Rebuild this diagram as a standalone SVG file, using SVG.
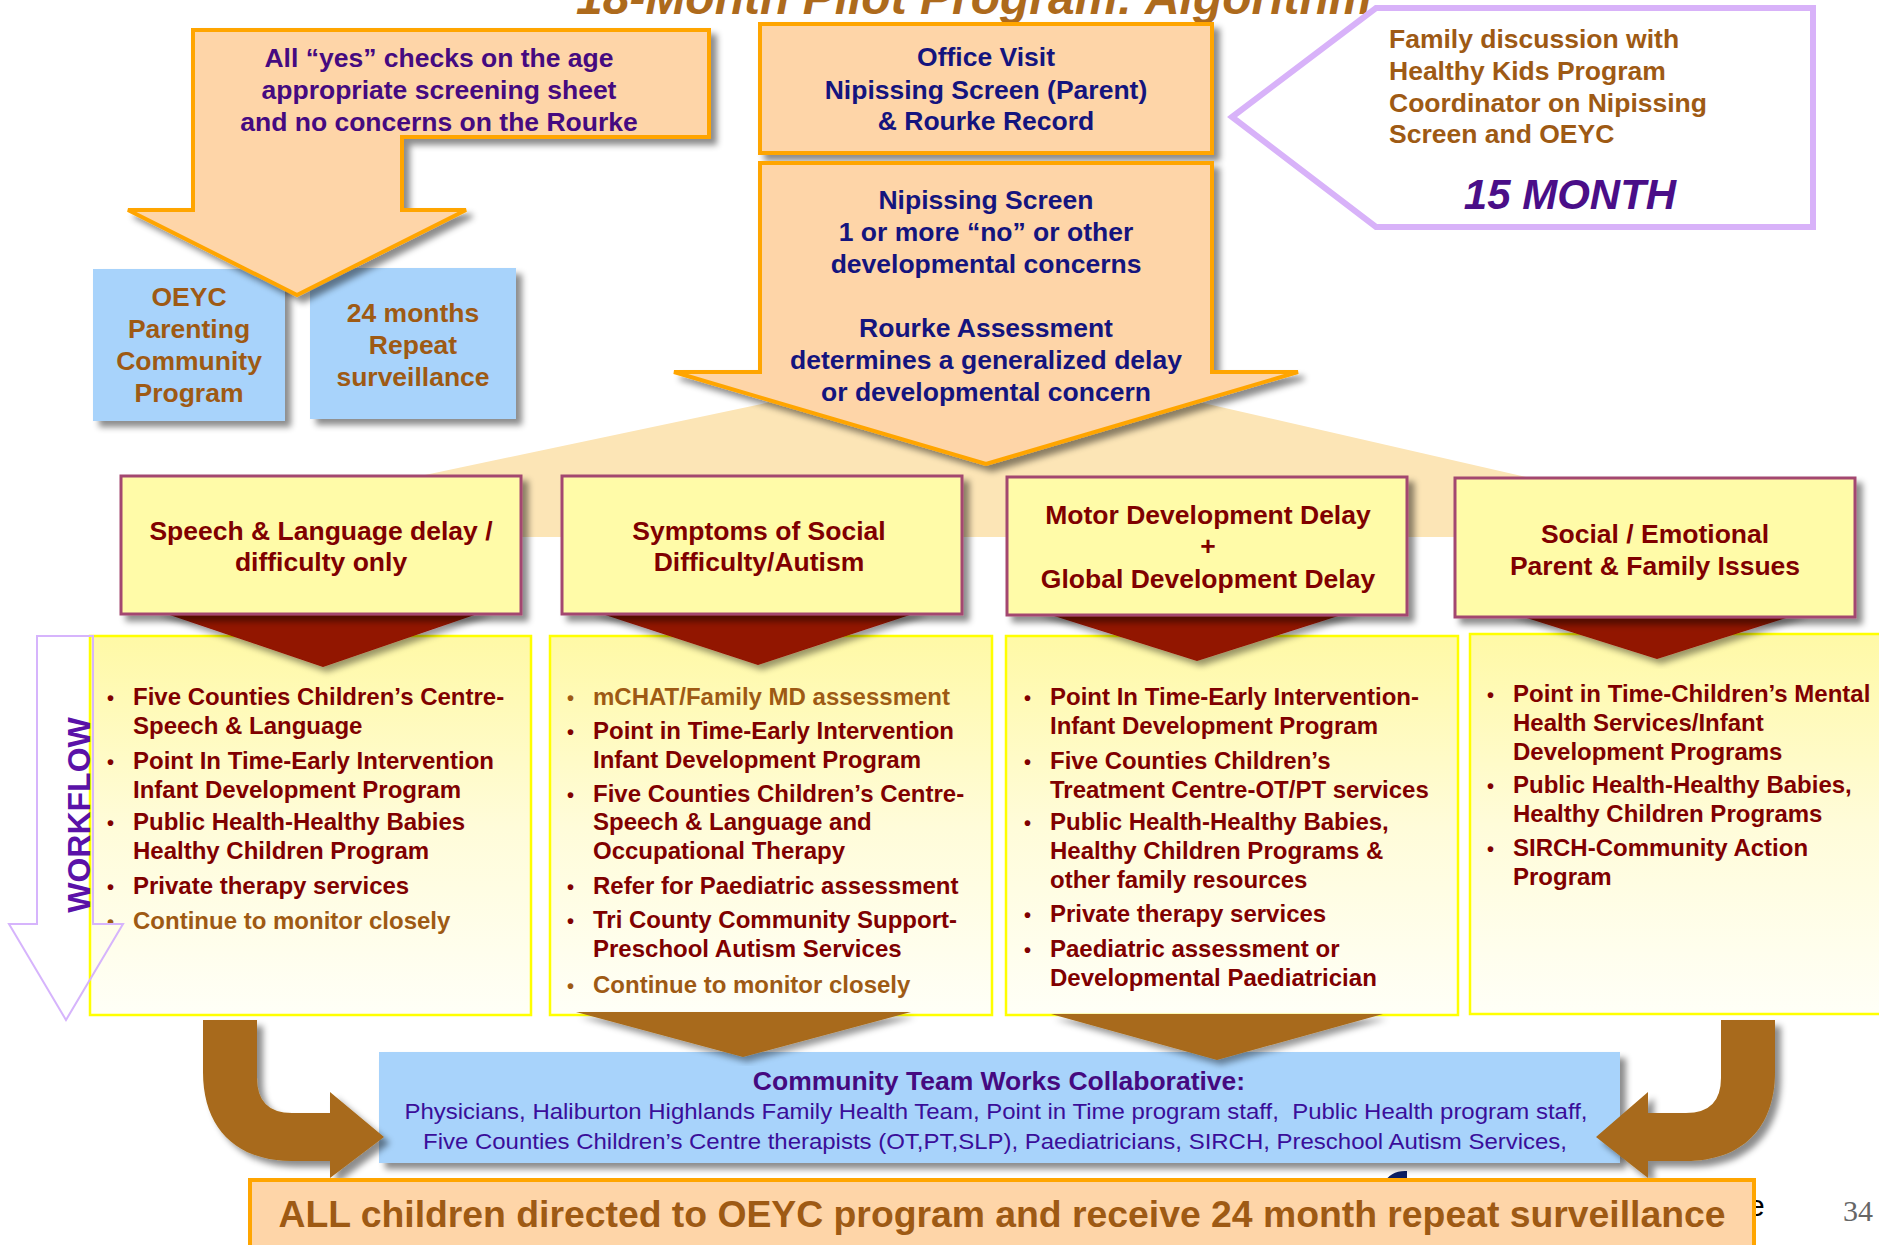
<svg xmlns="http://www.w3.org/2000/svg" width="1879" height="1245" viewBox="0 0 1879 1245">
<defs>
<style>
.sans{font-family:'Liberation Sans',Arial,sans-serif}
.b26{font:bold 26.5px 'Liberation Sans',Arial,sans-serif}
.b24{font:bold 24px 'Liberation Sans',Arial,sans-serif}
.r22{font:22px 'Liberation Sans',Arial,sans-serif}
.mid{text-anchor:middle}
.navy{fill:#14147E}
.purple{fill:#450A80}
.brown{fill:#9E5A14}
.maroon{fill:#800000}
.peach{fill:#FED5A8;stroke:#FFA500;stroke-width:4}
.blue{fill:#A8D3FB}
.ybox{fill:#FFFBA8;stroke:#A3476F;stroke-width:3}
.panel{fill:url(#pg);stroke:#FFFF00;stroke-width:2.5}
.chev{fill:#921200}
.bchev{fill:#A86B1A}
</style>
<linearGradient id="pg" x1="0" y1="0" x2="0" y2="1">
<stop offset="0" stop-color="#FFF9A6"/>
<stop offset="0.5" stop-color="#FFFCD9"/>
<stop offset="1" stop-color="#FFFFF7"/>
</linearGradient>
<filter id="sh" x="-10%" y="-10%" width="130%" height="130%">
<feDropShadow dx="6" dy="6" stdDeviation="3" flood-color="#000" flood-opacity="0.45"/>
</filter>
<filter id="shs" x="-10%" y="-10%" width="130%" height="130%">
<feDropShadow dx="4" dy="5" stdDeviation="3" flood-color="#000" flood-opacity="0.4"/>
</filter>
</defs>
<rect width="1879" height="1245" fill="#FFFFFF"/>

<text x="576" y="14" style="font:italic bold 48px 'Liberation Sans',Arial,sans-serif" fill="#AD6A1C">18-Month Pilot Program: Algorithm</text>

<polygon id="fan" points="780,400 1190,400 1530,478 1530,537 425,537 425,475" fill="#FCE5B6"/>

<g id="oeyc-box">
<rect x="93" y="269" width="192" height="152" class="blue" filter="url(#sh)"/>
<text class="b26 mid brown" x="189" y="306">OEYC</text>
<text class="b26 mid brown" x="189" y="338">Parenting</text>
<text class="b26 mid brown" x="189" y="370">Community</text>
<text class="b26 mid brown" x="189" y="402">Program</text>
</g>
<g id="repeat-box">
<rect x="310" y="268" width="206" height="151" class="blue" filter="url(#sh)"/>
<text class="b26 mid brown" x="413" y="322">24 months</text>
<text class="b26 mid brown" x="413" y="354">Repeat</text>
<text class="b26 mid brown" x="413" y="386">surveillance</text>
</g>

<g id="all-yes">
<polygon class="peach" filter="url(#sh)" points="193,30 709,30 709,137 402,137 402,210 466,210 297,295 128,210 193,210"/>
<text class="b26 mid purple" x="439" y="67">All “yes” checks on the age</text>
<text class="b26 mid purple" x="439" y="99">appropriate screening sheet</text>
<text class="b26 mid purple" x="439" y="131">and no concerns on the Rourke</text>
</g>

<g id="office-visit">
<rect x="760" y="24" width="452" height="129" class="peach" filter="url(#sh)"/>
<text class="b26 mid navy" x="986" y="66">Office Visit</text>
<text class="b26 mid navy" x="986" y="99">Nipissing Screen (Parent)</text>
<text class="b26 mid navy" x="986" y="130">&amp; Rourke Record</text>
</g>

<g id="nipissing">
<polygon class="peach" filter="url(#sh)" points="760,163 1212,163 1212,372 1298,372 986,464 674,372 760,372"/>
<text class="b26 mid navy" x="986" y="209">Nipissing Screen</text>
<text class="b26 mid navy" x="986" y="241">1 or more “no” or other</text>
<text class="b26 mid navy" x="986" y="273">developmental concerns</text>
<text class="b26 mid navy" x="986" y="337">Rourke Assessment</text>
<text class="b26 mid navy" x="986" y="369">determines a generalized delay</text>
<text class="b26 mid navy" x="986" y="401">or developmental concern</text>
</g>

<g id="family">
<polygon points="1232,117 1376,8 1813,8 1813,227 1376,227" fill="#FFFFFF" stroke="#D8B2F9" stroke-width="6"/>
<text class="b26 brown" x="1389" y="48">Family discussion with</text>
<text class="b26 brown" x="1389" y="80">Healthy Kids Program</text>
<text class="b26 brown" x="1389" y="112">Coordinator on Nipissing</text>
<text class="b26 brown" x="1389" y="143">Screen and OEYC</text>
<text x="1570" y="209" class="mid" style="font:italic bold 42px 'Liberation Sans',Arial,sans-serif" fill="#4A0E88">15 MONTH</text>
</g>

<g id="panel-speech">
<rect x="90" y="636" width="441" height="379" class="panel"/>
<g class="b24 maroon">
<text x="107" y="705" font-size="20">•</text><text x="133" y="705">Five Counties Children’s Centre-</text>
<text x="133" y="734">Speech &amp; Language</text>
<text x="107" y="769" font-size="20">•</text><text x="133" y="769">Point In Time-Early Intervention</text>
<text x="133" y="798">Infant Development Program</text>
<text x="107" y="830" font-size="20">•</text><text x="133" y="830">Public Health-Healthy Babies</text>
<text x="133" y="859">Healthy Children Program</text>
<text x="107" y="894" font-size="20">•</text><text x="133" y="894">Private therapy services</text>
</g>
<g class="b24 brown">
<text x="107" y="929" font-size="20">•</text><text x="133" y="929">Continue to monitor closely</text>
</g>
</g>

<g id="panel-social">
<rect x="550" y="636" width="442" height="379" class="panel"/>
<g class="b24 brown">
<text x="567" y="705" font-size="20">•</text><text x="593" y="705">mCHAT/Family MD assessment</text>
</g>
<g class="b24 maroon">
<text x="567" y="739" font-size="20">•</text><text x="593" y="739">Point in Time-Early Intervention</text>
<text x="593" y="768">Infant Development Program</text>
<text x="567" y="802" font-size="20">•</text><text x="593" y="802">Five Counties Children’s Centre-</text>
<text x="593" y="830">Speech &amp; Language and</text>
<text x="593" y="859">Occupational Therapy</text>
<text x="567" y="894" font-size="20">•</text><text x="593" y="894">Refer for Paediatric assessment</text>
<text x="567" y="928" font-size="20">•</text><text x="593" y="928">Tri County Community Support-</text>
<text x="593" y="957">Preschool Autism Services</text>
</g>
<g class="b24 brown">
<text x="567" y="993" font-size="20">•</text><text x="593" y="993">Continue to monitor closely</text>
</g>
</g>

<g id="panel-motor">
<rect x="1006" y="636" width="452" height="379" class="panel"/>
<g class="b24 maroon">
<text x="1024" y="705" font-size="20">•</text><text x="1050" y="705">Point In Time-Early Intervention-</text>
<text x="1050" y="734">Infant Development Program</text>
<text x="1024" y="769" font-size="20">•</text><text x="1050" y="769">Five Counties Children’s</text>
<text x="1050" y="798">Treatment Centre-OT/PT services</text>
<text x="1024" y="830" font-size="20">•</text><text x="1050" y="830">Public Health-Healthy Babies,</text>
<text x="1050" y="859">Healthy Children Programs &amp;</text>
<text x="1050" y="888">other family resources</text>
<text x="1024" y="922" font-size="20">•</text><text x="1050" y="922">Private therapy services</text>
<text x="1024" y="957" font-size="20">•</text><text x="1050" y="957">Paediatric assessment or</text>
<text x="1050" y="986">Developmental Paediatrician</text>
</g>
</g>

<g id="panel-emotional">
<rect x="1470" y="634" width="430" height="380" class="panel"/>
<g class="b24 maroon">
<text x="1487" y="702" font-size="20">•</text><text x="1513" y="702">Point in Time-Children’s Mental</text>
<text x="1513" y="731">Health Services/Infant</text>
<text x="1513" y="760">Development Programs</text>
<text x="1487" y="793" font-size="20">•</text><text x="1513" y="793">Public Health-Healthy Babies,</text>
<text x="1513" y="822">Healthy Children Programs</text>
<text x="1487" y="856" font-size="20">•</text><text x="1513" y="856">SIRCH-Community Action</text>
<text x="1513" y="885">Program</text>
</g>
</g>

<g id="connectors">
<polygon class="chev" filter="url(#shs)" points="155,610 489,610 323,667"/>
<polygon class="chev" filter="url(#shs)" points="590,610 925,610 758,665"/>
<polygon class="chev" filter="url(#shs)" points="1035,610 1357,610 1197,661"/>
<polygon class="chev" filter="url(#shs)" points="1508,612 1805,612 1657,659"/>
</g>

<g id="cat-speech">
<rect x="121" y="476" width="400" height="138" class="ybox" filter="url(#sh)"/>
<text class="b26 mid maroon" x="321" y="540">Speech &amp; Language delay /</text>
<text class="b26 mid maroon" x="321" y="571">difficulty only</text>
</g>
<g id="cat-social">
<rect x="562" y="476" width="400" height="138" class="ybox" filter="url(#sh)"/>
<text class="b26 mid maroon" x="759" y="540">Symptoms of Social</text>
<text class="b26 mid maroon" x="759" y="571">Difficulty/Autism</text>
</g>
<g id="cat-motor">
<rect x="1007" y="477" width="400" height="138" class="ybox" filter="url(#sh)"/>
<text class="b26 mid maroon" x="1208" y="524">Motor Development Delay</text>
<text class="b26 mid maroon" x="1208" y="555">+</text>
<text class="b26 mid maroon" x="1208" y="588">Global Development Delay</text>
</g>
<g id="cat-emotional">
<rect x="1455" y="478" width="400" height="139" class="ybox" filter="url(#sh)"/>
<text class="b26 mid maroon" x="1655" y="543">Social / Emotional</text>
<text class="b26 mid maroon" x="1655" y="575">Parent &amp; Family Issues</text>
</g>

<g id="workflow">
<polygon points="37,636 93,636 93,924 123,924 66,1020 9,924 37,924" fill="none" stroke="#D6B4FC" stroke-width="2"/>
<text transform="translate(90,815) rotate(-90)" x="0" y="0" class="mid" style="font:bold 32px 'Liberation Sans',Arial,sans-serif" fill="#5A12A8">WORKFLOW</text>
</g>

<text x="1748" y="1216" class="sans" font-size="30" fill="#000">e</text>
<path d="M1383,1184 Q1391,1170 1407,1171 L1407,1184 Z" fill="#0B1F63"/>

<g id="community">
<rect x="379" y="1052" width="1241" height="111" class="blue" filter="url(#sh)"/>
<text class="b26 mid purple" x="999" y="1090">Community Team Works Collaborative:</text>
<text class="r22 mid" fill="#3A0E9A" x="996" y="1119" textLength="1183" lengthAdjust="spacingAndGlyphs">Physicians, Haliburton Highlands Family Health Team, Point in Time program staff,&#160; Public Health program staff,</text>
<text class="r22 mid" fill="#3A0E9A" x="995" y="1149" textLength="1144" lengthAdjust="spacingAndGlyphs">Five Counties Children’s Centre therapists (OT,PT,SLP), Paediatricians, SIRCH, Preschool Autism Services,</text>
</g>

<g id="connectors-bottom">
<polygon class="bchev" filter="url(#shs)" points="576,1012 911,1012 743,1057"/>
<polygon class="bchev" filter="url(#shs)" points="1051,1014 1383,1014 1217,1060"/>
<path class="bchev" filter="url(#sh)" d="M203,1020 L257,1020 L257,1078 Q257,1113 292,1113 L330,1113 L330,1092 L384,1137 L330,1178 L330,1161 L292,1161 C236,1161 203,1128 203,1072 Z"/>
<path class="bchev" filter="url(#sh)" d="M1775,1020 L1721,1020 L1721,1078 Q1721,1113 1686,1113 L1648,1113 L1648,1092 L1596,1137 L1648,1178 L1648,1161 L1686,1161 C1742,1161 1775,1128 1775,1072 Z"/>
</g>

<g id="all-children">
<rect x="250" y="1180" width="1504" height="80" class="peach" stroke-width="3"/>
<text class="mid brown" x="1002" y="1227" style="font:bold 36px 'Liberation Sans',Arial,sans-serif" textLength="1447" lengthAdjust="spacingAndGlyphs">ALL children directed to OEYC program and receive 24 month repeat surveillance</text>
</g>

<text x="1843" y="1221" style="font:30px 'Liberation Serif','Times New Roman',serif" fill="#666666">34</text>
</svg>
